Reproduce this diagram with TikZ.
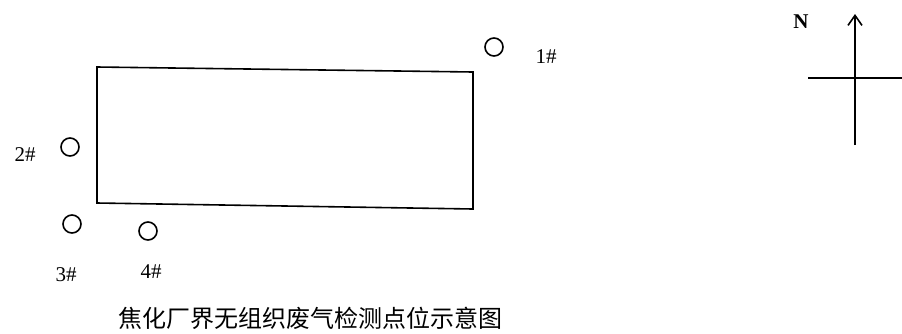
\documentclass[tikz,border=0pt]{standalone}
\usepackage{fontspec}
\setmainfont{Liberation Serif}
\newfontfamily\cjk{Noto Sans CJK SC}
\usetikzlibrary{arrows.meta}
\begin{document}
\begin{tikzpicture}[x=1pt,y=-1pt,line width=1.6pt]
		\tikzstyle{every node}+=[inner sep=0pt]
		\tikzstyle{lbl}=[font=\fontsize{21}{21}\selectfont]
		\useasboundingbox (0,0) rectangle (902,333);
		\draw [black] (97,67) -- (473,72) -- (473,209) -- (97,203) -- cycle;
		\draw [black] (494,47) circle (9);
		\draw [black] (70,147) circle (9);
		\draw [black] (72,224) circle (9);
		\draw [black] (148,231) circle (9);
		\draw (546,57) node (p1) [lbl] {1\#};
		\draw (25,155) node (p2) [lbl] {2\#};
		\draw (66,275) node (p3) [lbl] {3\#};
		\draw (151,272) node (p4) [lbl] {4\#};
		\draw (310,318) node (title) [font=\cjk\fontsize{24}{24}\selectfont] {焦化厂界无组织废气检测点位示意图};
		\draw (801,22) node (north) [font=\fontsize{21}{21}\selectfont\bfseries] {N};
		\coordinate (s) at (855,145);
		\coordinate (n) at (855,14);
		\draw [black,-{Straight Barb[length=10pt,width=14pt]}] (s) -- (n);
		\coordinate (w) at (808,78);
		\coordinate (e) at (902,78);
		\draw [black] (w) -- (e);
		\end{tikzpicture}
\end{document}
